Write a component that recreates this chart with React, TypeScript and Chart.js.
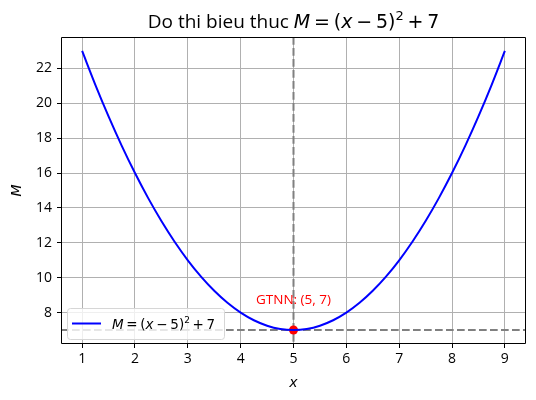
import React, { useEffect, useRef } from "react";
import { Chart, registerables } from "chart.js";

Chart.register(...registerables);

const xValues = [1, 1.25, 1.5, 1.75, 2, 2.25, 2.5, 2.75, 3, 3.25, 3.5, 3.75, 4, 4.25, 4.5, 4.75, 5, 5.25, 5.5, 5.75, 6, 6.25, 6.5, 6.75, 7, 7.25, 7.5, 7.75, 8, 8.25, 8.5, 8.75, 9];
const mValues = [23, 21.0625, 19.25, 17.5625, 16, 14.5625, 13.25, 12.0625, 11, 10.0625, 9.25, 8.5625, 8, 7.5625, 7.25, 7.0625, 7, 7.0625, 7.25, 7.5625, 8, 8.5625, 9.25, 10.0625, 11, 12.0625, 13.25, 14.5625, 16, 17.5625, 19.25, 21.0625, 23];
const xTicks = [1, 2, 3, 4, 5, 6, 7, 8, 9];
const yTicks = [8, 10, 12, 14, 16, 18, 20, 22];
const minX = [5];
const minY = [7];
const minLabel = "GTNN: (5, 7)";
const minLabelY = 8.5;
const seriesLabel = "M = (x − 5)² + 7";

type Seg = { t: string; it?: boolean; sup?: boolean; fam?: string };
const MATH = "'DejaVu Sans'";
const PLAIN = "'Open Sans'";

function drawSegs(ctx: CanvasRenderingContext2D, segs: Seg[], x: number, y: number, size: number, color: string, align: "left" | "center") {
  const fontOf = (s: Seg) => `${s.it ? "italic " : ""}${s.sup ? Math.round(size * 0.7) : size}px ${s.fam || MATH}`;
  let total = 0;
  const widths = segs.map((s) => {
    ctx.font = fontOf(s);
    const w = ctx.measureText(s.t).width;
    total += w;
    return w;
  });
  let cx = align === "center" ? x - total / 2 : x;
  ctx.fillStyle = color;
  ctx.textBaseline = "alphabetic";
  ctx.textAlign = "left";
  segs.forEach((s, i) => {
    ctx.font = fontOf(s);
    ctx.fillText(s.t, cx, s.sup ? y - size * 0.42 : y);
    cx += widths[i];
  });
}

const formula = (): Seg[] => [
  { t: "M", it: true },
  { t: "\u2009=\u2009(" },
  { t: "x", it: true },
  { t: "\u2009−\u20095)" },
  { t: "2", sup: true },
  { t: "\u2009+\u20097" },
];

const decor = {
  id: "decor",
  beforeDatasetsDraw(chart: any) {
    const { ctx, chartArea: a, scales } = chart;
    const px = scales.x.getPixelForValue(minX[0]);
    const py = scales.y.getPixelForValue(minY[0]);
    ctx.save();
    ctx.strokeStyle = "#808080";
    ctx.lineWidth = 2;
    ctx.setLineDash([7.7, 3.3]);
    ctx.beginPath();
    ctx.moveTo(px, a.top);
    ctx.lineTo(px, a.bottom);
    ctx.moveTo(a.left, py);
    ctx.lineTo(a.right, py);
    ctx.stroke();
    ctx.restore();
  },
  afterDraw(chart: any) {
    const { ctx, chartArea: a, scales } = chart;
    ctx.save();
    // frame
    const L = Math.round(a.left) + 0.5, R = Math.round(a.right) - 0.5, T = Math.round(a.top) + 0.5, B = Math.round(a.bottom) - 0.5;
    ctx.strokeStyle = "#000";
    ctx.lineWidth = 1;
    ctx.setLineDash([]);
    ctx.beginPath();
    ctx.moveTo(L, T);
    ctx.lineTo(R, T);
    ctx.lineTo(R, B);
    ctx.lineTo(L, B);
    ctx.closePath();
    ctx.stroke();
    // title
    drawSegs(ctx, [{ t: "Do thi bieu thuc ", fam: PLAIN }, ...formula()], (a.left + a.right) / 2, 28, 19, "#000", "center");
    // axis titles
    drawSegs(ctx, [{ t: "x", it: true }], (a.left + a.right) / 2, 387, 14, "#000", "center");
    ctx.save();
    ctx.translate(21, (a.top + a.bottom) / 2);
    ctx.rotate(-Math.PI / 2);
    drawSegs(ctx, [{ t: "M", it: true }], 0, 0, 14, "#000", "center");
    ctx.restore();
    // annotation
    ctx.font = `13.5px ${PLAIN}`;
    ctx.fillStyle = "red";
    ctx.textAlign = "center";
    ctx.textBaseline = "alphabetic";
    ctx.fillText(minLabel, scales.x.getPixelForValue(minX[0]), scales.y.getPixelForValue(minLabelY));
    // legend
    const lx = a.left + 6, ly = a.bottom - 36, lw = 157, lh = 31;
    ctx.fillStyle = "rgba(255,255,255,0.8)";
    ctx.strokeStyle = "#d6d6d6";
    ctx.lineWidth = 1;
    ctx.beginPath();
    (ctx as any).roundRect(lx + 0.5, ly + 0.5, lw, lh, 3);
    ctx.fill();
    ctx.stroke();
    ctx.strokeStyle = "blue";
    ctx.lineWidth = 2;
    ctx.beginPath();
    ctx.moveTo(lx + 5, ly + 15.5);
    ctx.lineTo(lx + 34, ly + 15.5);
    ctx.stroke();
    drawSegs(ctx, formula(), lx + 45, ly + 21, 13.5, "#000", "left");
    ctx.restore();
  },
};

export default function App() {
  const ref = useRef<HTMLCanvasElement>(null);
  useEffect(() => {
    document.body.style.margin = "0";
    const chart = new Chart(ref.current!, {
      type: "line",
      data: {
        datasets: [
          {
            label: seriesLabel,
            data: xValues.map((x, i) => ({ x, y: mValues[i] })),
            borderColor: "blue",
            borderWidth: 2,
            pointRadius: 0,
            cubicInterpolationMode: "monotone",
            fill: false,
          },
          {
            label: "min",
            data: minX.map((x, i) => ({ x, y: minY[i] })),
            borderColor: "red",
            backgroundColor: "red",
            showLine: false,
            pointRadius: 4.5,
            pointBorderWidth: 0,
          },
        ],
      },
      options: {
        animation: false,
        responsive: false,
        devicePixelRatio: 1,
        layout: { padding: { top: 37, right: 10, left: 0, bottom: 0 } },
        plugins: { legend: { display: false }, title: { display: false }, tooltip: { enabled: false } },
        scales: {
          x: {
            type: "linear",
            min: 0.6,
            max: 9.4,
            afterBuildTicks: (s: any) => { s.ticks = xTicks.map((v) => ({ value: v })); },
            afterFit: (s: any) => { s.height = 56; },
            grid: { color: "#b0b0b0", lineWidth: 1, tickColor: "#000", tickLength: 4 },
            border: { display: false },
            ticks: { color: "#000", font: { family: PLAIN, size: 14 }, padding: 3, maxRotation: 0 },
          },
          y: {
            type: "linear",
            min: 6.2,
            max: 23.8,
            afterBuildTicks: (s: any) => { s.ticks = yTicks.map((v) => ({ value: v })); },
            afterFit: (s: any) => { s.width = 61; },
            grid: { color: "#b0b0b0", lineWidth: 1, tickColor: "#000", tickLength: 4 },
            border: { display: false },
            ticks: { color: "#000", font: { family: PLAIN, size: 14 }, padding: 5 },
          },
        },
      },
      plugins: [decor],
    } as any);
    return () => chart.destroy();
  }, []);
  return (
    <div style={{ width: 536, height: 400, background: "#fff" }}>
      <canvas ref={ref} width={536} height={400} />
    </div>
  );
}
